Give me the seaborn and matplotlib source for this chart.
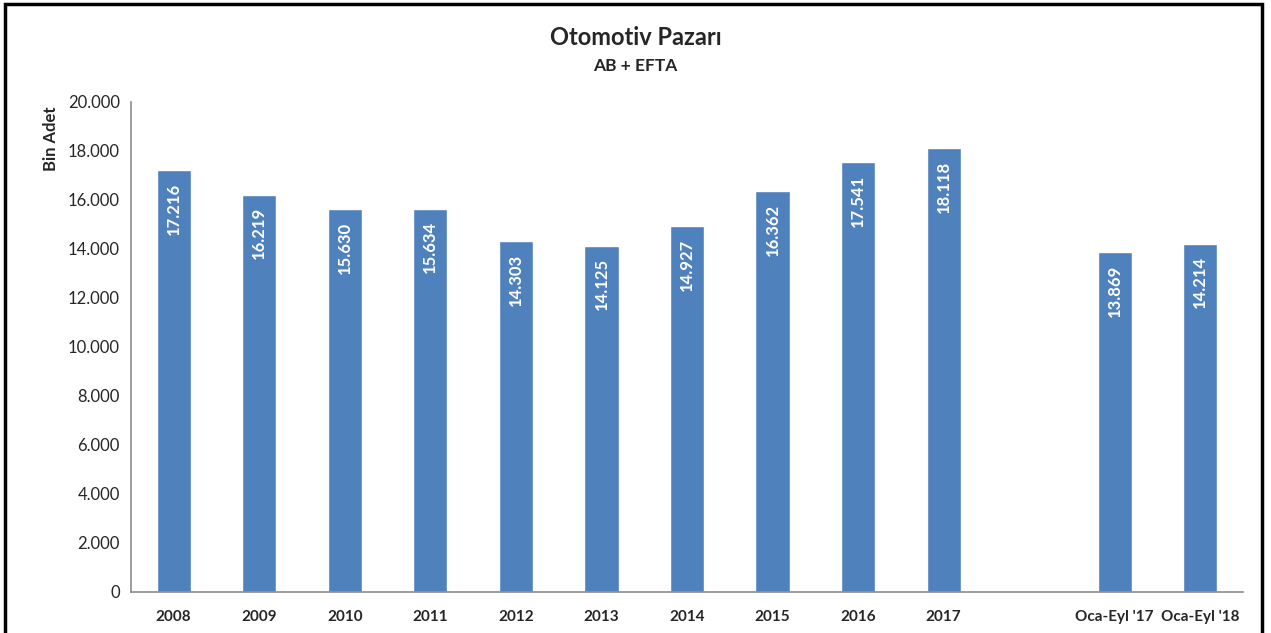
import pandas as pd
import matplotlib.pyplot as plt
from matplotlib.patches import Rectangle
import seaborn as sns

kategoriler = ['2008', '2009', '2010', '2011', '2012', '2013', '2014', '2015', '2016', '2017',
               ' ', "Oca-Eyl '17", "Oca-Eyl '18"]
veri_kategori = ['2008', '2009', '2010', '2011', '2012', '2013', '2014', '2015', '2016', '2017',
                 "Oca-Eyl '17", "Oca-Eyl '18"]
degerler = [17216, 16219, 15630, 15634, 14303, 14125, 14927, 16362, 17541, 18118, 13869, 14214]

df = pd.DataFrame({'Donem': veri_kategori, 'Adet': degerler})

sns.set_style('white')
plt.rcParams['font.family'] = ['Lato', 'DejaVu Sans']

fig = plt.figure(figsize=(12.71, 6.33), dpi=100)
ax = fig.add_axes([0.103, 0.065, 0.875, 0.774])

sns.barplot(data=df, x='Donem', y='Adet', order=kategoriler, color='#4F81BD',
            width=0.4, saturation=1, ax=ax)

# bar etiketleri - beyaz, dikey, barin ust kismina yakin
for bar, deger in zip([p for p in ax.patches if p.get_height() > 0], degerler):
    etiket = f'{deger:,}'.replace(',', '.')
    ax.annotate(etiket, (bar.get_x() + bar.get_width() / 2, bar.get_height()),
                xytext=(0, -9), textcoords='offset points', rotation=90,
                ha='center', va='top', color='white', fontsize=12, fontweight='bold')

ax.set_ylim(0, 20000)
ax.set_xlim(-0.5, 12.5)
ax.set_yticks(range(0, 20001, 2000))
ax.set_yticklabels(['0' if t == 0 else f'{t:,}'.replace(',', '.') for t in range(0, 20001, 2000)],
                   fontsize=12)
ax.set_xticks(range(len(kategoriler)))
ax.set_xticklabels(kategoriler, fontsize=11, fontweight='bold')
ax.tick_params(axis='y', length=0, pad=8)
ax.tick_params(axis='x', length=0, pad=13)
ax.set_xlabel('')
ax.set_ylabel('Bin Adet', fontsize=12, fontweight='bold', loc='top')
ax.yaxis.set_label_coords(-0.065, 0.99)

sns.despine(ax=ax)
for s in ['left', 'bottom']:
    ax.spines[s].set_color('#8c8c8c')
    ax.spines[s].set_linewidth(1.2)

fig.text(0.5, 0.94, 'Otomotiv Pazarı', ha='center', va='center', fontsize=17, fontweight='bold')
fig.text(0.5, 0.895, 'AB + EFTA', ha='center', va='center', fontsize=12.5, fontweight='bold')

fig.patches.append(Rectangle((5 / 1271, -0.02), 1257 / 1271, 1.02 - 4 / 633,
                             transform=fig.transFigure, fill=False,
                             edgecolor='black', linewidth=2.5))

fig.savefig('out.png', dpi=100)
